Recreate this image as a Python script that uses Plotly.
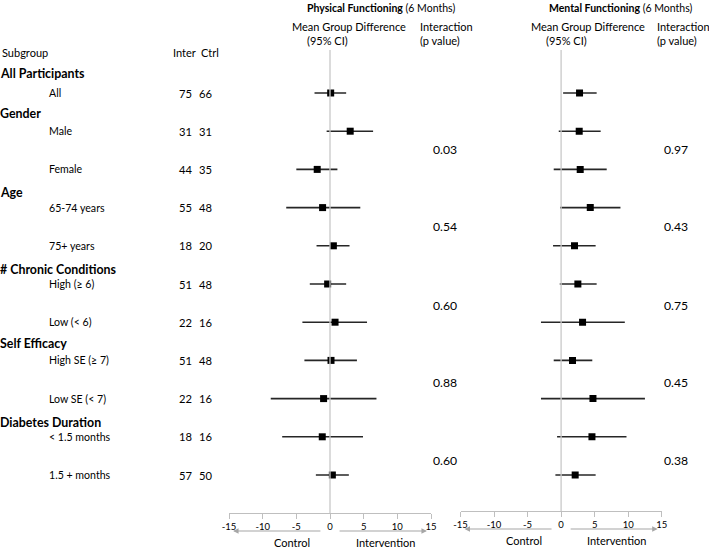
import plotly.graph_objects as go

W, H = 709, 548

# ---------------- data ----------------
groups = ["All Participants", "Gender", "Age", "# Chronic Conditions", "Self Efficacy", "Diabetes Duration"]
subgroups = ["All", "Male", "Female", "65-74 years", "75+ years", "High (\u2265 6)", "Low (< 6)",
             "High SE (\u2265 7)", "Low SE (< 7)", "< 1.5 months", "1.5 + months"]
n_inter = [75, 31, 44, 55, 18, 51, 22, 51, 22, 18, 57]
n_ctrl = [66, 31, 35, 48, 20, 48, 16, 48, 16, 16, 50]

pf_est = [0.1, 3.0, -1.9, -1.1, 0.5, -0.35, 0.75, 0.15, -0.95, -1.15, 0.35]
pf_lo = [-2.3, -0.5, -5.0, -6.5, -2.0, -3.0, -4.1, -3.8, -8.8, -7.1, -2.1]
pf_hi = [2.4, 6.4, 1.1, 4.5, 2.9, 2.4, 5.5, 4.0, 6.9, 4.9, 2.8]

mf_est = [2.75, 2.7, 2.85, 4.35, 2.0, 2.5, 3.2, 1.7, 4.75, 4.6, 2.1]
mf_lo = [0.3, -0.35, -1.1, -0.15, -1.2, -0.2, -3.0, -1.1, -3.0, -0.6, -0.85]
mf_hi = [5.3, 5.9, 6.8, 8.85, 5.15, 5.3, 9.5, 4.65, 12.5, 9.75, 5.15]

p_pf = ["0.03", "0.54", "0.60", "0.88", "0.60"]
p_mf = ["0.97", "0.43", "0.75", "0.45", "0.38"]

tick_vals = [-15, -10, -5, 0, 5, 10, 15]
tick_text = ["-15", "-10", "-5", "0", "5", "10", "15"]

# ---------------- layout helpers ----------------
ROW0, STEP = 93, 38.2
rows = list(range(len(subgroups)))
FONT = "Lato, 'Open Sans', sans-serif"
TXT = "#000000"


def py(p):
    return 1 - p / H


def px(p):
    return p / W


annotations = []


def ann(text, x, y, size=11, anchor="left", color=TXT):
    annotations.append(dict(text=text, x=px(x), y=py(y), xref="paper", yref="paper",
                            xanchor=anchor, yanchor="middle", showarrow=False, borderpad=0,
                            font=dict(family=FONT, size=size, color=color)))


fig = go.Figure()

for est, lo, hi, xa in [(pf_est, pf_lo, pf_hi, "x"), (mf_est, mf_lo, mf_hi, "x2")]:
    fig.add_trace(go.Scatter(
        x=est, y=rows, xaxis=xa, yaxis="y", mode="markers",
        marker=dict(symbol="square", size=7, color="#000000"),
        error_x=dict(type="data", symmetric=False,
                     array=[h - e for h, e in zip(hi, est)],
                     arrayminus=[e - l for e, l in zip(est, lo)],
                     color="#262626", thickness=1.6, width=0),
        showlegend=False, hoverinfo="skip"))

# left text table
ann("Subgroup", 1, 53, 11)
ann("Inter", 172, 53, 11)
ann("Ctrl", 200, 53, 11)
group_y = [73, 113, 192, 269, 343, 422]
for g, gy in zip(groups, group_y):
    ann("<b>%s</b>" % g, -1, gy, 12.4)
for i, s in enumerate(subgroups):
    yy = ROW0 + STEP * i
    ann(s, 48, yy, 10.6)
    ann(str(n_inter[i]), 193, yy, 11.2, "right")
    ann(str(n_ctrl[i]), 213, yy, 11.2, "right")

# headers
ann("<b>Physical Functioning</b> (6 Months)", 306, 8, 10.5)
ann("<b>Mental Functioning</b> (6 Months)", 548, 8, 10.5)
for x0 in (291, 530):
    ann("Mean Group Difference", x0, 27, 11)
    ann("(95% CI)", x0 + 15, 41, 11)
for x0 in (419, 656):
    ann("Interaction", x0, 27, 11)
    ann("(p value)", x0, 41, 11)

# p values
p_y = [150, 226, 305, 382, 460]
for pv, yy in zip(p_pf, p_y):
    ann(pv, 432, yy, 12.2)
for pv, yy in zip(p_mf, p_y):
    ann(pv, 663, yy, 12.2)

# direction arrows and labels
for xa, ay_px in (("x", 531), ("x2", 529)):
    for head, tail in ((-14.4, -1.2), (14.4, 1.2)):
        annotations.append(dict(x=head, y=py(ay_px), xref=xa, yref="paper",
                                ax=tail, ay=0, axref=xa, ayref="pixel", text="",
                                showarrow=True, arrowhead=2, arrowsize=1, arrowwidth=1.1,
                                arrowcolor="#a6a6a6", standoff=0))
    for lab, xv in (("Control", -5.6), ("Intervention", 8.2)):
        annotations.append(dict(text=lab, x=xv, y=py(ay_px + 11), xref=xa, yref="paper",
                                xanchor="center", yanchor="middle", showarrow=False,
                                font=dict(family=FONT, size=11, color=TXT)))

shapes = []
for xa, bottom in (("x", 513), ("x2", 511)):
    shapes.append(dict(type="line", xref=xa, yref="paper", x0=0, x1=0,
                       y0=py(bottom), y1=py(50), line=dict(color="#c8c8c8", width=1.3)))

axis_common = dict(range=[-15, 15], tickvals=tick_vals, ticktext=tick_text,
                   showgrid=False, zeroline=False, showline=True, linecolor="#bfbfbf",
                   linewidth=1, ticks="outside", ticklen=5, tickcolor="#bfbfbf",
                   tickfont=dict(family=FONT, size=9.5, color=TXT), anchor="free")

fig.update_layout(
    width=W, height=H, margin=dict(l=0, r=0, t=0, b=0, autoexpand=False),
    paper_bgcolor="white", plot_bgcolor="white",
    xaxis=dict(domain=[px(229), px(431)], position=py(513), **axis_common),
    xaxis2=dict(domain=[px(460.5), px(661.7)], position=py(511), **axis_common),
    yaxis=dict(range=[(H - ROW0) / STEP, -ROW0 / STEP], domain=[0, 1], visible=False,
               showgrid=False, zeroline=False),
    annotations=annotations, shapes=shapes,
)

fig.write_html("out.html", config={"displayModeBar": False},
               post_script="document.body.style.margin='0px';document.body.style.overflow='hidden';")
